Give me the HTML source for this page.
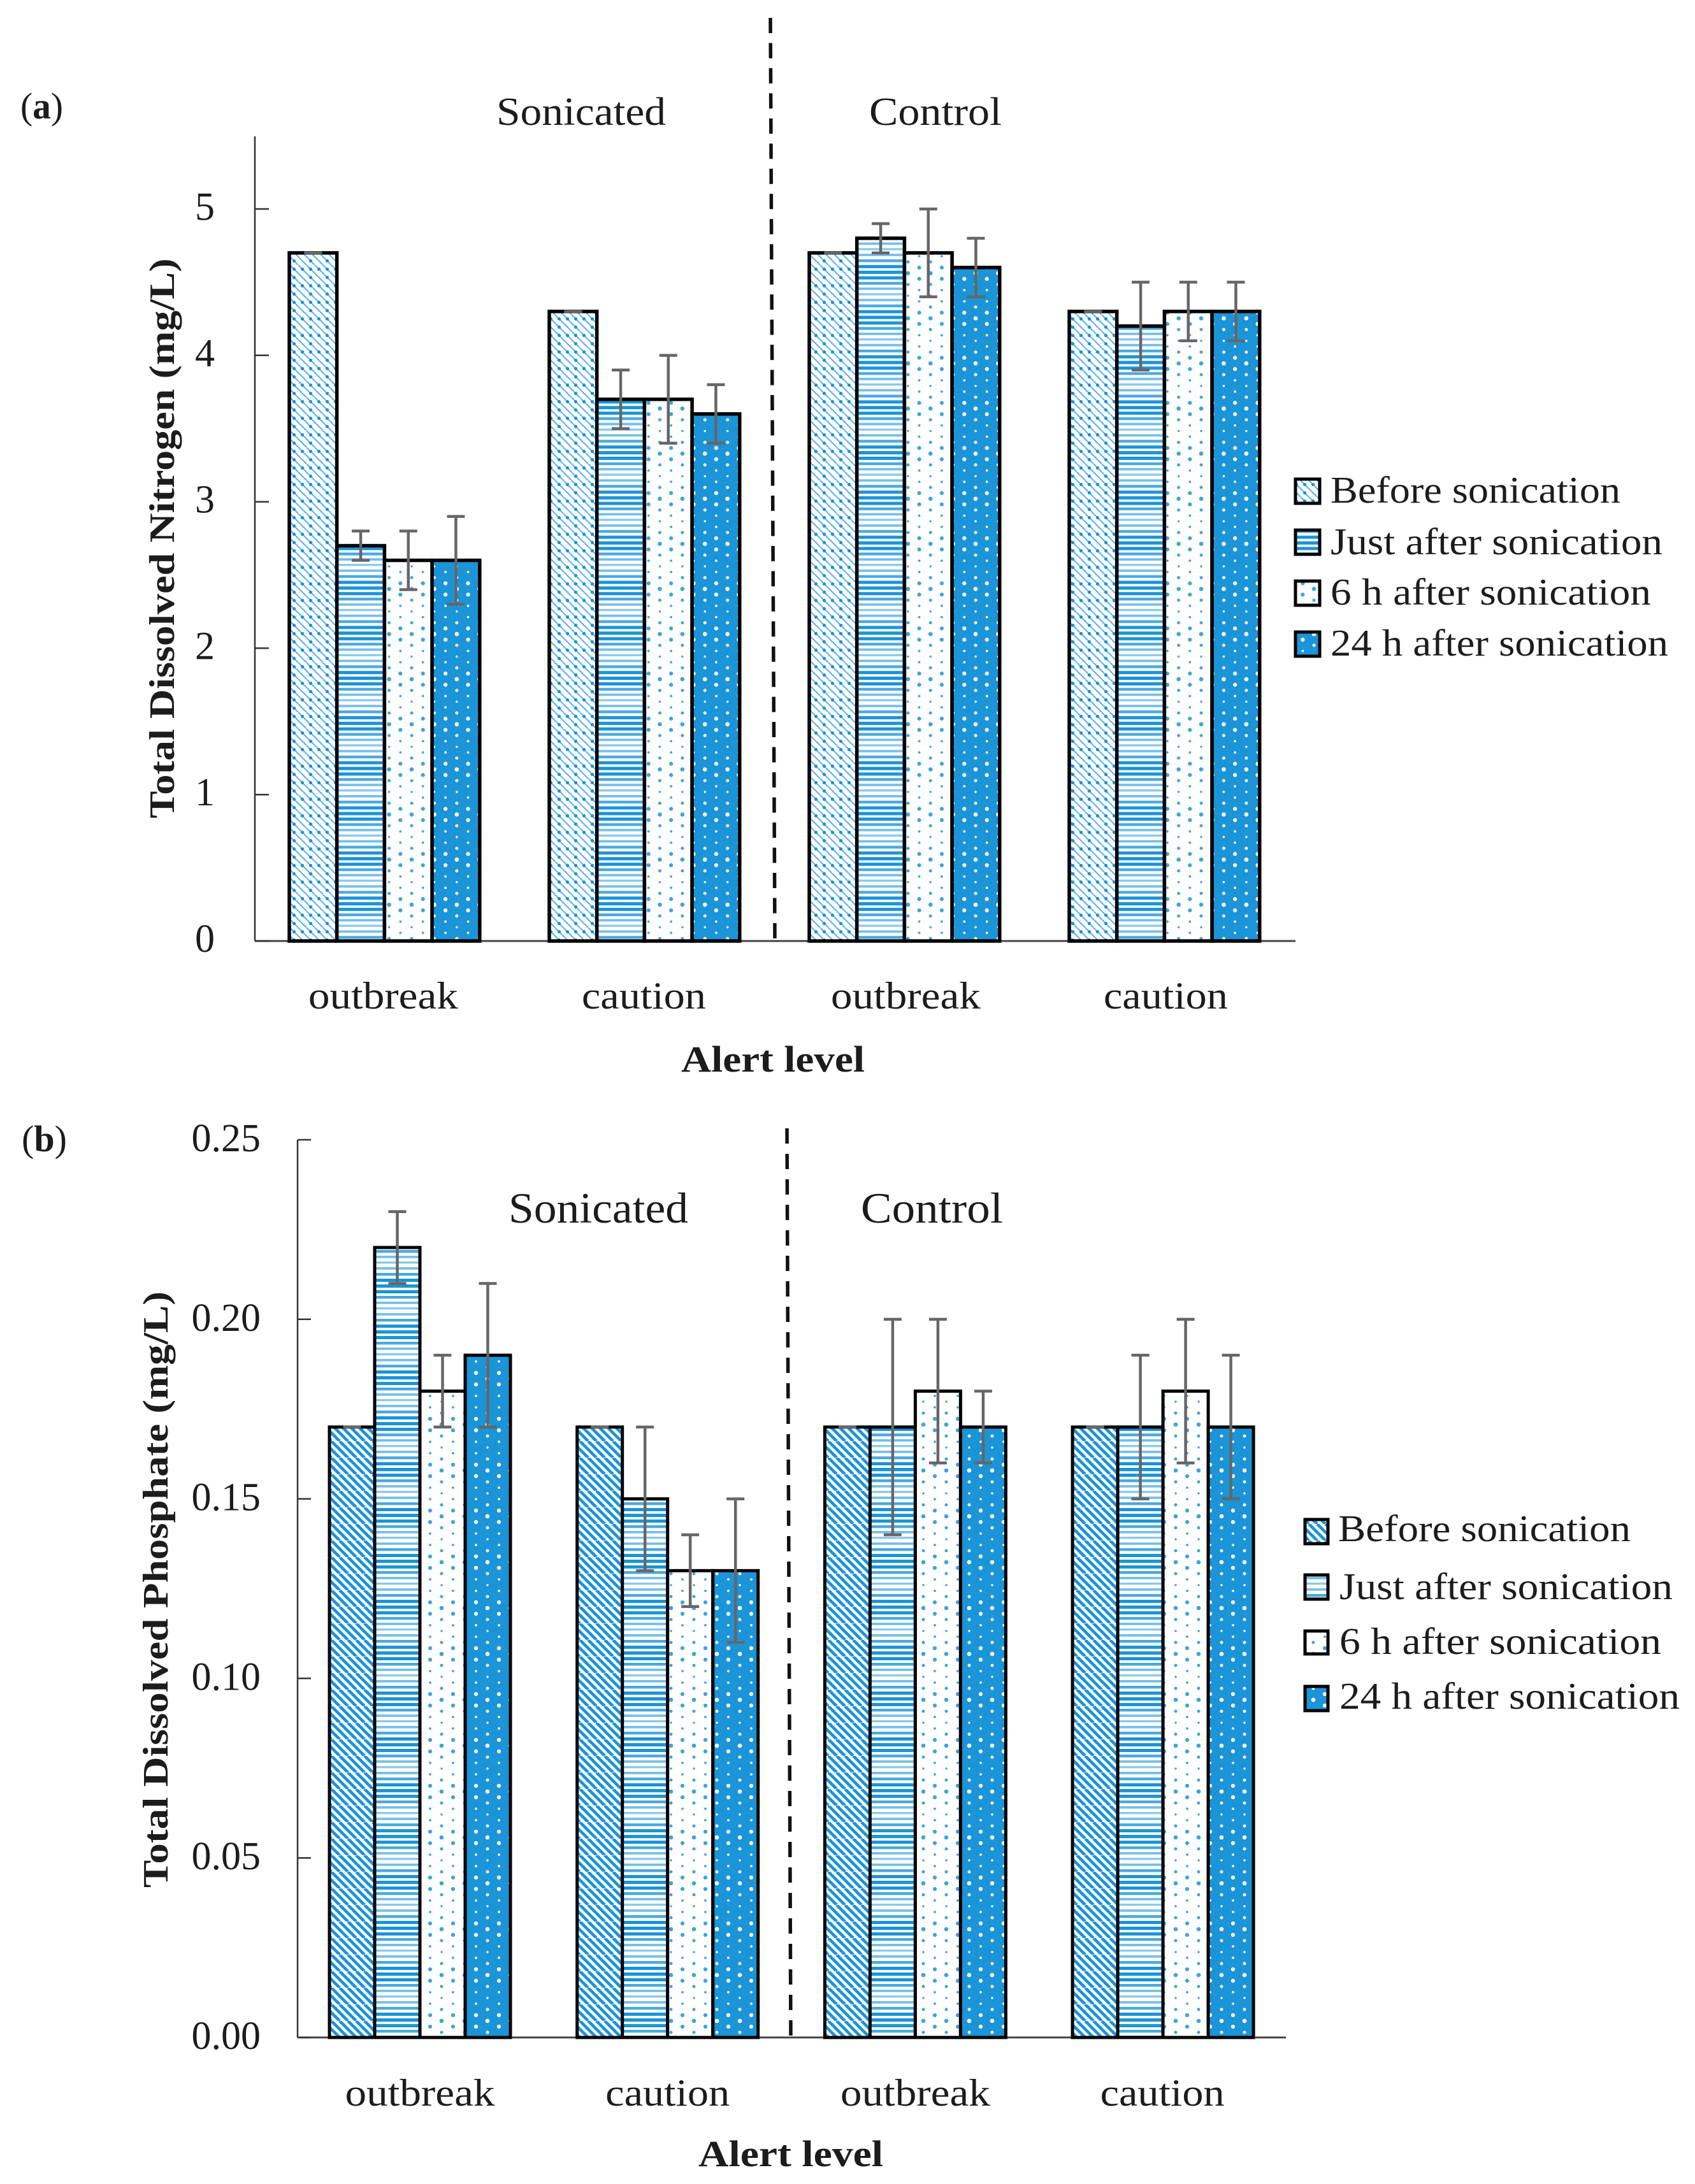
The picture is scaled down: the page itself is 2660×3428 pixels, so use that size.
<!DOCTYPE html>
<html lang="en">
<head>
<meta charset="utf-8">
<title>Total dissolved nitrogen and phosphate by alert level</title>
<style>
html,body{margin:0;padding:0;background:#fff;width:2660px;height:3428px;overflow:hidden}
svg{display:block}
text{font-family:"Liberation Serif","DejaVu Serif",serif;fill:#1c1c1c}
</style>
</head>
<body>
<svg id="figure" xmlns="http://www.w3.org/2000/svg" width="2660" height="3428" viewBox="0 0 2660 3428">
  <defs id="defs"></defs>
  <rect x="0" y="0" width="2660" height="3428" fill="#ffffff"/>

  <g id="panel-a">
    <text x="32" y="186" font-size="58" textLength="67" lengthAdjust="spacingAndGlyphs">(<tspan font-weight="bold">a</tspan>)</text>
    <text x="779" y="196" font-size="62" textLength="266" lengthAdjust="spacingAndGlyphs">Sonicated</text>
    <text x="1364" y="196" font-size="62" textLength="208" lengthAdjust="spacingAndGlyphs">Control</text>
    <line x1="1209" y1="28" x2="1216" y2="1473" stroke="#111" stroke-width="5.5" stroke-dasharray="24 15.47"/>
    <text transform="translate(273 845) rotate(-90)" text-anchor="middle" font-size="56" font-weight="bold" textLength="879" lengthAdjust="spacingAndGlyphs">Total Dissolved Nitrogen (mg/L)</text>
    <text x="1069" y="1682" font-size="58" font-weight="bold" textLength="288" lengthAdjust="spacingAndGlyphs">Alert level</text>
    <g>
      <text x="2088" y="789" font-size="59" textLength="455" lengthAdjust="spacingAndGlyphs">Before sonication</text>
      <text x="2088" y="870" font-size="59" textLength="521" lengthAdjust="spacingAndGlyphs">Just after sonication</text>
      <text x="2088" y="949" font-size="59" textLength="503" lengthAdjust="spacingAndGlyphs">6 h after sonication</text>
      <text x="2088" y="1029" font-size="59" textLength="530" lengthAdjust="spacingAndGlyphs">24 h after sonication</text>
      <rect x="2033" y="752" width="38" height="38" fill="url(#a-before)" stroke="#000" stroke-width="5"/>
      <rect x="2033" y="832" width="38" height="38" fill="url(#a-just)" stroke="#000" stroke-width="5"/>
      <rect x="2033" y="912" width="38" height="38" fill="url(#a-six)" stroke="#000" stroke-width="5"/>
      <rect x="2033" y="992" width="38" height="38" fill="url(#a-h24)" stroke="#000" stroke-width="5"/>
    </g>
  </g>

  <g id="panel-b">
    <text x="34" y="1807" font-size="58" textLength="71" lengthAdjust="spacingAndGlyphs">(<tspan font-weight="bold">b</tspan>)</text>
    <text x="798" y="1919" font-size="68" textLength="282" lengthAdjust="spacingAndGlyphs">Sonicated</text>
    <text x="1351" y="1919" font-size="68" textLength="223" lengthAdjust="spacingAndGlyphs">Control</text>
    <line x1="1235" y1="1771" x2="1241" y2="3195" stroke="#111" stroke-width="5.5" stroke-dasharray="24 16"/>
    <text transform="translate(263 2495) rotate(-90)" text-anchor="middle" font-size="56" font-weight="bold" textLength="936" lengthAdjust="spacingAndGlyphs">Total Dissolved Phosphate (mg/L)</text>
    <text x="1096" y="3400" font-size="58" font-weight="bold" textLength="290" lengthAdjust="spacingAndGlyphs">Alert level</text>
    <g>
      <text x="2100" y="2419" font-size="59" textLength="459" lengthAdjust="spacingAndGlyphs">Before sonication</text>
      <text x="2102" y="2510" font-size="59" textLength="523" lengthAdjust="spacingAndGlyphs">Just after sonication</text>
      <text x="2102" y="2596" font-size="59" textLength="505" lengthAdjust="spacingAndGlyphs">6 h after sonication</text>
      <text x="2102" y="2682" font-size="59" textLength="534" lengthAdjust="spacingAndGlyphs">24 h after sonication</text>
      <rect x="2048" y="2385" width="36" height="38" fill="url(#b-before)" stroke="#000" stroke-width="5"/>
      <rect x="2048" y="2472" width="36" height="38" fill="url(#b-just)" stroke="#000" stroke-width="5"/>
      <rect x="2048" y="2560" width="36" height="36" fill="url(#b-six)" stroke="#000" stroke-width="5"/>
      <rect x="2048" y="2647" width="36" height="38" fill="url(#b-h24)" stroke="#000" stroke-width="5"/>
    </g>
  </g>
</svg>

<script>
// ---- chart data -----
const categories = ['outbreak', 'caution', 'outbreak', 'caution'];
const seriesKeys = ['before', 'just', 'six', 'h24'];

const nitrogenBefore = [4.7, 4.3, 4.7, 4.3];
const nitrogenJust   = [2.7, 3.7, 4.8, 4.2];
const nitrogenSix    = [2.6, 3.7, 4.7, 4.3];
const nitrogenH24    = [2.6, 3.6, 4.6, 4.3];
const nitrogenBeforeErr = [0, 0, 0, 0];
const nitrogenJustErr   = [0.1, 0.2, 0.1, 0.3];
const nitrogenSixErr    = [0.2, 0.3, 0.3, 0.2];
const nitrogenH24Err    = [0.3, 0.2, 0.2, 0.2];
const nitrogenTicks = [0, 1, 2, 3, 4, 5];
const nitrogenTickLabels = ['0', '1', '2', '3', '4', '5'];

const phosphateBefore = [0.17, 0.17, 0.17, 0.17];
const phosphateJust   = [0.22, 0.15, 0.17, 0.17];
const phosphateSix    = [0.18, 0.13, 0.18, 0.18];
const phosphateH24    = [0.19, 0.13, 0.17, 0.17];
const phosphateBeforeErr = [0, 0, 0, 0];
const phosphateJustErr   = [0.01, 0.02, 0.03, 0.02];
const phosphateSixErr    = [0.01, 0.01, 0.02, 0.02];
const phosphateH24Err    = [0.02, 0.02, 0.01, 0.02];
const phosphateTicks = [0, 0.05, 0.1, 0.15, 0.2, 0.25];
const phosphateTickLabels = ['0.00', '0.05', '0.10', '0.15', '0.20', '0.25'];

// ---- helpers -----
const NS = 'http://www.w3.org/2000/svg';
const BLUE = '#1b94d8';
function make(tag, attrs, parent) {
  const el = document.createElementNS(NS, tag);
  for (const k in attrs) el.setAttribute(k, attrs[k]);
  if (parent) parent.appendChild(el);
  return el;
}

// ---- fill patterns -----
const stripeStyle = [[1, 5.2], [1, 5], [0.8, 4.4], [0.6, 3.8], [0.5, 3.4], [0.6, 3.8], [0.8, 4.4], [1, 5]];
const dotRadius = [3.3, 3.1, 2.5, 1.9, 1.7, 1.9, 2.5, 3.1];
const defs = document.getElementById('defs');

function buildPatterns(prefix, period, diagStep, diagonalWidth, diagonalDots) {
  const tile = diagStep * 2;
  const before = make('pattern', {id: prefix + '-before', patternUnits: 'userSpaceOnUse', width: tile, height: tile}, defs);
  make('rect', {width: tile, height: tile, fill: '#fff'}, before);
  for (let i = -2; i <= 2; i++) {
    make('line', {x1: i * diagStep, y1: 0, x2: i * diagStep + tile, y2: tile, stroke: BLUE, 'stroke-width': diagonalWidth, 'stroke-opacity': diagonalDots ? 0.75 : 1}, before);
  }
  if (diagonalDots) {
    make('circle', {cx: diagStep / 2, cy: diagStep / 2, r: 2.6, fill: BLUE}, before);
    make('circle', {cx: diagStep * 1.5, cy: diagStep * 1.5, r: 2.6, fill: BLUE}, before);
    make('circle', {cx: diagStep * 1.5, cy: diagStep / 2, r: 2.6, fill: BLUE}, before);
  }

  const just = make('pattern', {id: prefix + '-just', patternUnits: 'userSpaceOnUse', width: 20, height: period * 8}, defs);
  make('rect', {width: 20, height: period * 8, fill: '#fff'}, just);
  stripeStyle.forEach(function (st, k) {
    make('rect', {x: 0, y: k * period, width: 20, height: st[1], fill: BLUE, 'fill-opacity': st[0]}, just);
  });

  ['six', 'h24'].forEach(function (key) {
    const p = make('pattern', {id: prefix + '-' + key, patternUnits: 'userSpaceOnUse', width: period * 4, height: period * 8}, defs);
    make('rect', {width: period * 4, height: period * 8, fill: key === 'six' ? '#fff' : BLUE}, p);
    dotRadius.forEach(function (r, k) {
      const cx = k % 2 === 0 ? period : period * 3;
      make('circle', {cx: cx, cy: k * period + 4, r: r, fill: key === 'six' ? BLUE : '#ffffff', 'fill-opacity': key === 'six' ? 0.85 : 1}, p);
    });
  });
}
buildPatterns('a', 8.85, 13, 2, true);
buildPatterns('b', 9, 13, 4.8, false);

// ---- drawing -----
function drawChart(opts) {
  const root = document.getElementById(opts.rootId);
  const yScale = function (v) { return opts.baseY - v * opts.unitPx; };
  const xScale = function (g, s) { return opts.bandStart + g * opts.bandStep + s * opts.barW; };

  // axes
  const yAxis = make('line', {x1: opts.axisX, x2: opts.axisX, y1: opts.axisTop, y2: opts.baseY, stroke: '#333', 'stroke-width': 2.5}, root);
  
  
  const xAxis = make('line', {x1: opts.axisX, x2: opts.axisEnd, y1: opts.baseY, y2: opts.baseY, stroke: '#444', 'stroke-width': 3}, root);
  
  

  // ticks
  opts.ticks.forEach(function (t, i) {
    const tick = make('line', {x1: opts.axisX, x2: opts.axisX + opts.tickLen, y1: yScale(t), y2: yScale(t), stroke: '#333', 'stroke-width': 2.5}, root);
    
    
    const lab = make('text', {x: opts.tickLabelX, y: yScale(t) + opts.tickLabelDy, 'text-anchor': 'end', 'font-size': 62}, root);
    lab.textContent = opts.tickLabels[i];
    
    
  });

  // category labels
  categories.forEach(function (c, g) {
    const cx = xScale(g, 2) + opts.catDx[g];
    const lab = make('text', {x: cx, y: opts.catY, 'text-anchor': 'middle', 'font-size': 60, textLength: c === 'outbreak' ? 235 : 195, lengthAdjust: 'spacingAndGlyphs'}, root);
    lab.textContent = c;
    
    
  });

  // bars
  opts.series.forEach(function (vals, s) {
    vals.forEach(function (v, g) {
      const bar = make('rect', {
        x: xScale(g, s), y: yScale(v), width: opts.barW, height: opts.baseY - yScale(v),
        fill: 'url(#' + opts.patternPrefix + '-' + seriesKeys[s] + ')', stroke: '#000', 'stroke-width': opts.barStroke
      }, root);
      
      
    });
  });

  // error bars
  opts.errors.forEach(function (errs, s) {
    errs.forEach(function (e, g) {
      const v = opts.series[s][g];
      const cx = xScale(g, s) + opts.barW / 2;
      const capHalf = 14;
      const eg = make('g', {stroke: '#666', 'stroke-width': 4.5, fill: 'none'}, root);
      
      
      make('line', {x1: cx, x2: cx, y1: yScale(v + e), y2: yScale(v - e)}, eg);
      make('line', {x1: cx - capHalf, x2: cx + capHalf, y1: yScale(v + e), y2: yScale(v + e)}, eg);
      make('line', {x1: cx - capHalf, x2: cx + capHalf, y1: yScale(v - e), y2: yScale(v - e)}, eg);
    });
  });
}

drawChart({
  rootId: 'panel-a', suffix: 'a', patternPrefix: 'a',
  series: [nitrogenBefore, nitrogenJust, nitrogenSix, nitrogenH24],
  errors: [nitrogenBeforeErr, nitrogenJustErr, nitrogenSixErr, nitrogenH24Err],
  ticks: nitrogenTicks, tickLabels: nitrogenTickLabels,
  baseY: 1477, unitPx: 229.8, axisX: 400, axisTop: 214, axisEnd: 2033, tickLen: 22,
  tickLabelX: 337, tickLabelDy: 17,
  bandStart: 454, bandStep: 408, barW: 74.7, barStroke: 5.5,
  catDx: [-2, -1, 2, 2], catY: 1583
});

drawChart({
  rootId: 'panel-b', suffix: 'b', patternPrefix: 'b',
  series: [phosphateBefore, phosphateJust, phosphateSix, phosphateH24],
  errors: [phosphateBeforeErr, phosphateJustErr, phosphateSixErr, phosphateH24Err],
  ticks: phosphateTicks, tickLabels: phosphateTickLabels,
  baseY: 3198, unitPx: 5636, axisX: 467, axisTop: 1789, axisEnd: 2018, tickLen: 21,
  tickLabelX: 409, tickLabelDy: 18,
  bandStart: 517, bandStep: 388.7, barW: 71, barStroke: 5,
  catDx: [0, 0, 0, -1], catY: 3305
});
</script>
</body>
</html>
